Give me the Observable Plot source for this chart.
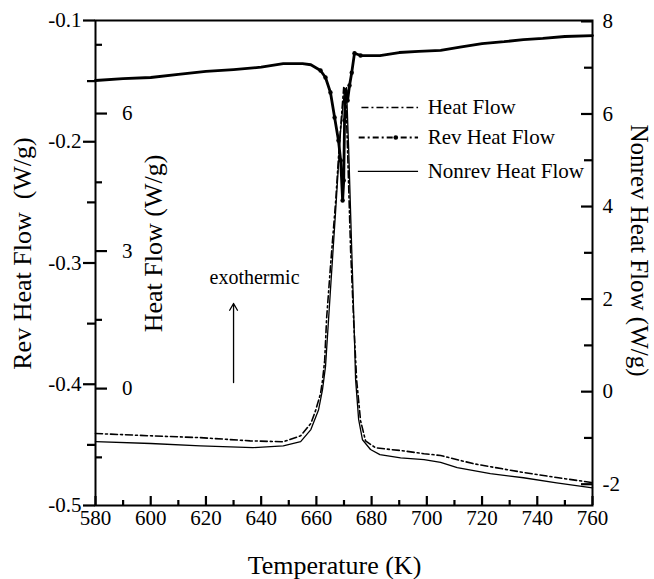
<!DOCTYPE html>
<html><head><meta charset="utf-8">
<script src="https://cdn.jsdelivr.net/npm/d3@7"></script>
<script src="https://cdn.jsdelivr.net/npm/@observablehq/plot@0.6"></script>
<style>body{margin:0;background:#fff} #chart svg{display:block}</style>
</head><body><div id="chart"></div>
<script>
// Rev Heat Flow (left axis, W/g)
const revT = [580, 590, 600, 610, 620, 630, 640, 648, 655, 658, 661.5, 663.3, 665.1, 666.6, 668, 668.8, 669.5, 669.9, 670.2, 670.6, 671.3, 672, 672.8, 673.8, 676, 683, 690, 697, 705, 712, 720, 728, 735, 742, 750, 760];
const revV = [-0.1495, -0.148, -0.147, -0.1445, -0.142, -0.1405, -0.1385, -0.1355, -0.1355, -0.1365, -0.1412, -0.147, -0.1594, -0.180, -0.199, -0.2155, -0.2485, -0.232, -0.1825, -0.158, -0.166, -0.1536, -0.143, -0.127, -0.1289, -0.1289, -0.1264, -0.1255, -0.1247, -0.122, -0.119, -0.1175, -0.1157, -0.1148, -0.1132, -0.1124];
// Heat Flow (inner axis, W/g)
const hfT = [580, 600, 618, 636, 648, 654.3, 658, 659.7, 661.5, 662.2, 663, 663.7, 665.1, 667, 668.4, 669.9, 670.6, 671.3, 672.4, 673.5, 674.6, 676, 677.8, 681.4, 687, 690.5, 699, 705, 717, 735, 747, 760];
const hfV = [-0.98, -1.03, -1.07, -1.14, -1.16, -1.03, -0.76, -0.48, -0.11, 0.17, 0.61, 1.53, 2.66, 4.10, 5.41, 6.57, 6.51, 5.20, 3.01, 1.48, 0.17, -0.70, -1.14, -1.29, -1.33, -1.35, -1.42, -1.46, -1.64, -1.83, -1.94, -2.05];
// Nonrev Heat Flow (right axis, W/g)
const nrT = [580, 600, 618, 637, 648, 654.3, 658, 660.8, 662.2, 663.3, 665.1, 667, 668.8, 670.2, 670.9, 671.7, 672.8, 673.8, 674.2, 675.3, 676.7, 679.6, 683, 690.5, 699, 705, 711, 723, 735, 747, 760];
const nrV = [-1.08, -1.12, -1.17, -1.21, -1.17, -1.08, -0.82, -0.39, 0.04, 0.54, 2.20, 3.93, 5.66, 6.52, 6.57, 5.23, 3.07, 1.12, 0.26, -0.60, -1.04, -1.25, -1.36, -1.43, -1.47, -1.53, -1.64, -1.77, -1.86, -1.97, -2.08];

// Axis ticks
const xMajor = [580, 600, 620, 640, 660, 680, 700, 720, 740, 760];
const xMinor = [590, 610, 630, 650, 670, 690, 710, 730, 750];
const revMajor = [-0.5, -0.4, -0.3, -0.2, -0.1];
const revMinor = [-0.45, -0.35, -0.25, -0.15];
const hfMajor = [0, 3, 6];
const hfMinor = [-1.5, 1.5, 4.5, 7.5];
const nrMajor = [-2, 0, 2, 4, 6, 8];
const nrMinor = [-1, 1, 3, 5, 7];

const legendNames = ["Heat Flow", "Rev Heat Flow", "Nonrev Heat Flow"];

// Scale domains
const xDomain = [580, 760];
const revDomain = [-0.5, -0.1];
const hfDomain = [-2.55, 8.03];
const nrDomain = [-2.46, 8.02];
const toRev = dom => v => revDomain[0] + (v - dom[0]) / (dom[1] - dom[0]) * (revDomain[1] - revDomain[0]);
const hfY = toRev(hfDomain), nrY = toRev(nrDomain);

const rev = revT.map((T, i) => ({T, v: revV[i]}));
const hf = hfT.map((T, i) => ({T, v: hfY(hfV[i])}));
const nr = nrT.map((T, i) => ({T, v: nrY(nrV[i])}));
const revDots = rev.filter(d => d.T >= 660 && d.T <= 676);

// legend layout (data coordinates)
const legX1 = 676.5, legX2 = 697, legTextX = 700.3;
const legY = [-0.1718, -0.1965, -0.2245];
const legend = legendNames.map((name, i) => ({name, y: legY[i]}));

const serif = "Liberation Serif, Times New Roman, serif";
const tk = {stroke: "#000", strokeWidth: 2.2, fill: "none", label: null};

const chart = Plot.plot({
  width: 654, height: 579,
  marginLeft: 95, marginRight: 62, marginTop: 20, marginBottom: 74,
  x: {domain: xDomain},
  y: {domain: revDomain},
  style: {fontFamily: serif, fontSize: "21px", background: "#fff", color: "#000"},
  marks: [
    // data
    Plot.line(nr, {x: "T", y: "v", stroke: "#000", strokeWidth: 1.3}),
    Plot.line(hf, {x: "T", y: "v", stroke: "#000", strokeWidth: 1.6, strokeDasharray: "7,3,2,3"}),
    Plot.line(rev, {x: "T", y: "v", stroke: "#000", strokeWidth: 2.8}),
    Plot.dot(revDots, {x: "T", y: "v", r: 2.2, fill: "#000"}),
    // frame
    Plot.frame({stroke: "#000", strokeWidth: 2}),
    // x axis (ticks inward)
    Plot.axisX({anchor: "bottom", ticks: xMajor, tickSize: 9, dy: -9, ...tk}),
    Plot.axisX({anchor: "bottom", ticks: xMinor, tickSize: 5, dy: -5, ...tk}),
    Plot.axisX({anchor: "bottom", ticks: xMajor, tickSize: 0, tickPadding: 5, tickFormat: d => String(d), fontSize: 21, label: null}),
    // left rev axis (ticks outward)
    Plot.axisY({anchor: "left", ticks: revMajor, tickSize: 12, ...tk}),
    Plot.axisY({anchor: "left", ticks: revMajor, tickSize: 0, tickPadding: 14, tickFormat: d => d.toFixed(1), fontSize: 21, label: null}),
    Plot.axisY({anchor: "left", ticks: revMinor, tickSize: 8, ...tk}),
    // inner heat flow axis (ticks inward)
    Plot.axisY({anchor: "left", ticks: hfMajor.map(hfY), tickSize: 12, dx: 12, ...tk}),
    Plot.axisY({anchor: "left", ticks: hfMinor.map(hfY), tickSize: 7, dx: 7, ...tk}),
    Plot.text(hfMajor, {y: d => hfY(d), text: d => String(d), frameAnchor: "left", dx: 37, textAnchor: "end", fontSize: 21}),
    // right nonrev axis (ticks inward)
    Plot.axisY({anchor: "right", ticks: nrMajor.map(nrY), tickSize: 12, dx: -12, ...tk}),
    Plot.axisY({anchor: "right", ticks: nrMinor.map(nrY), tickSize: 9, dx: -9, ...tk}),
    Plot.text(nrMajor, {y: d => nrY(d), text: d => String(d), frameAnchor: "right", dx: 10, textAnchor: "start", fontSize: 21}),
    // axis titles
    Plot.text(["Rev Heat Flow  (W/g)"], {text: d => d, frameAnchor: "left", dx: -73, dy: -9.5, rotate: -90, fontSize: 26, textAnchor: "middle", lineAnchor: "middle"}),
    Plot.text(["Heat Flow (W/g)"], {text: d => d, frameAnchor: "left", dx: 58, dy: -19.5, rotate: -90, fontSize: 26, textAnchor: "middle", lineAnchor: "middle"}),
    Plot.text(["Nonrev Heat Flow (W/g)"], {text: d => d, frameAnchor: "right", dx: 46, dy: -12.5, rotate: 90, fontSize: 25, textAnchor: "middle", lineAnchor: "middle"}),
    Plot.text(["Temperature (K)"], {text: d => d, frameAnchor: "bottom", dx: -9.5, dy: 60, fontSize: 26, textAnchor: "middle", lineAnchor: "middle"}),
    // annotation
    Plot.text(["exothermic"], {text: d => d, x: 637.6, y: -0.312, fontSize: 20, textAnchor: "middle", lineAnchor: "middle"}),
    Plot.arrow([{x1: 630, y1: -0.3986, x2: 630, y2: -0.3334}], {x1: "x1", y1: "y1", x2: "x2", y2: "y2", stroke: "#000", strokeWidth: 1.3, headLength: 9}),
    // legend
    Plot.ruleY([legend[0]], {y: "y", x1: legX1, x2: legX2, stroke: "#000", strokeWidth: 1.5, strokeDasharray: "7,3,2,3"}),
    Plot.ruleY([legend[1]], {y: "y", x1: legX1 - 1, x2: legX2, stroke: "#000", strokeWidth: 1.8, strokeDasharray: "6,3,2,3"}),
    Plot.dot([legend[1]], {y: "y", x: (legX1 + legX2) / 2 + 2, r: 2.3, fill: "#000"}),
    Plot.ruleY([legend[2]], {y: "y", x1: legX1 - 1.3, x2: legX2, stroke: "#000", strokeWidth: 1.2}),
    Plot.text(legend, {y: "y", x: legTextX, text: "name", textAnchor: "start", lineAnchor: "middle", fontSize: 21})
  ]
});
document.getElementById("chart").appendChild(chart);
</script>
</body></html>
